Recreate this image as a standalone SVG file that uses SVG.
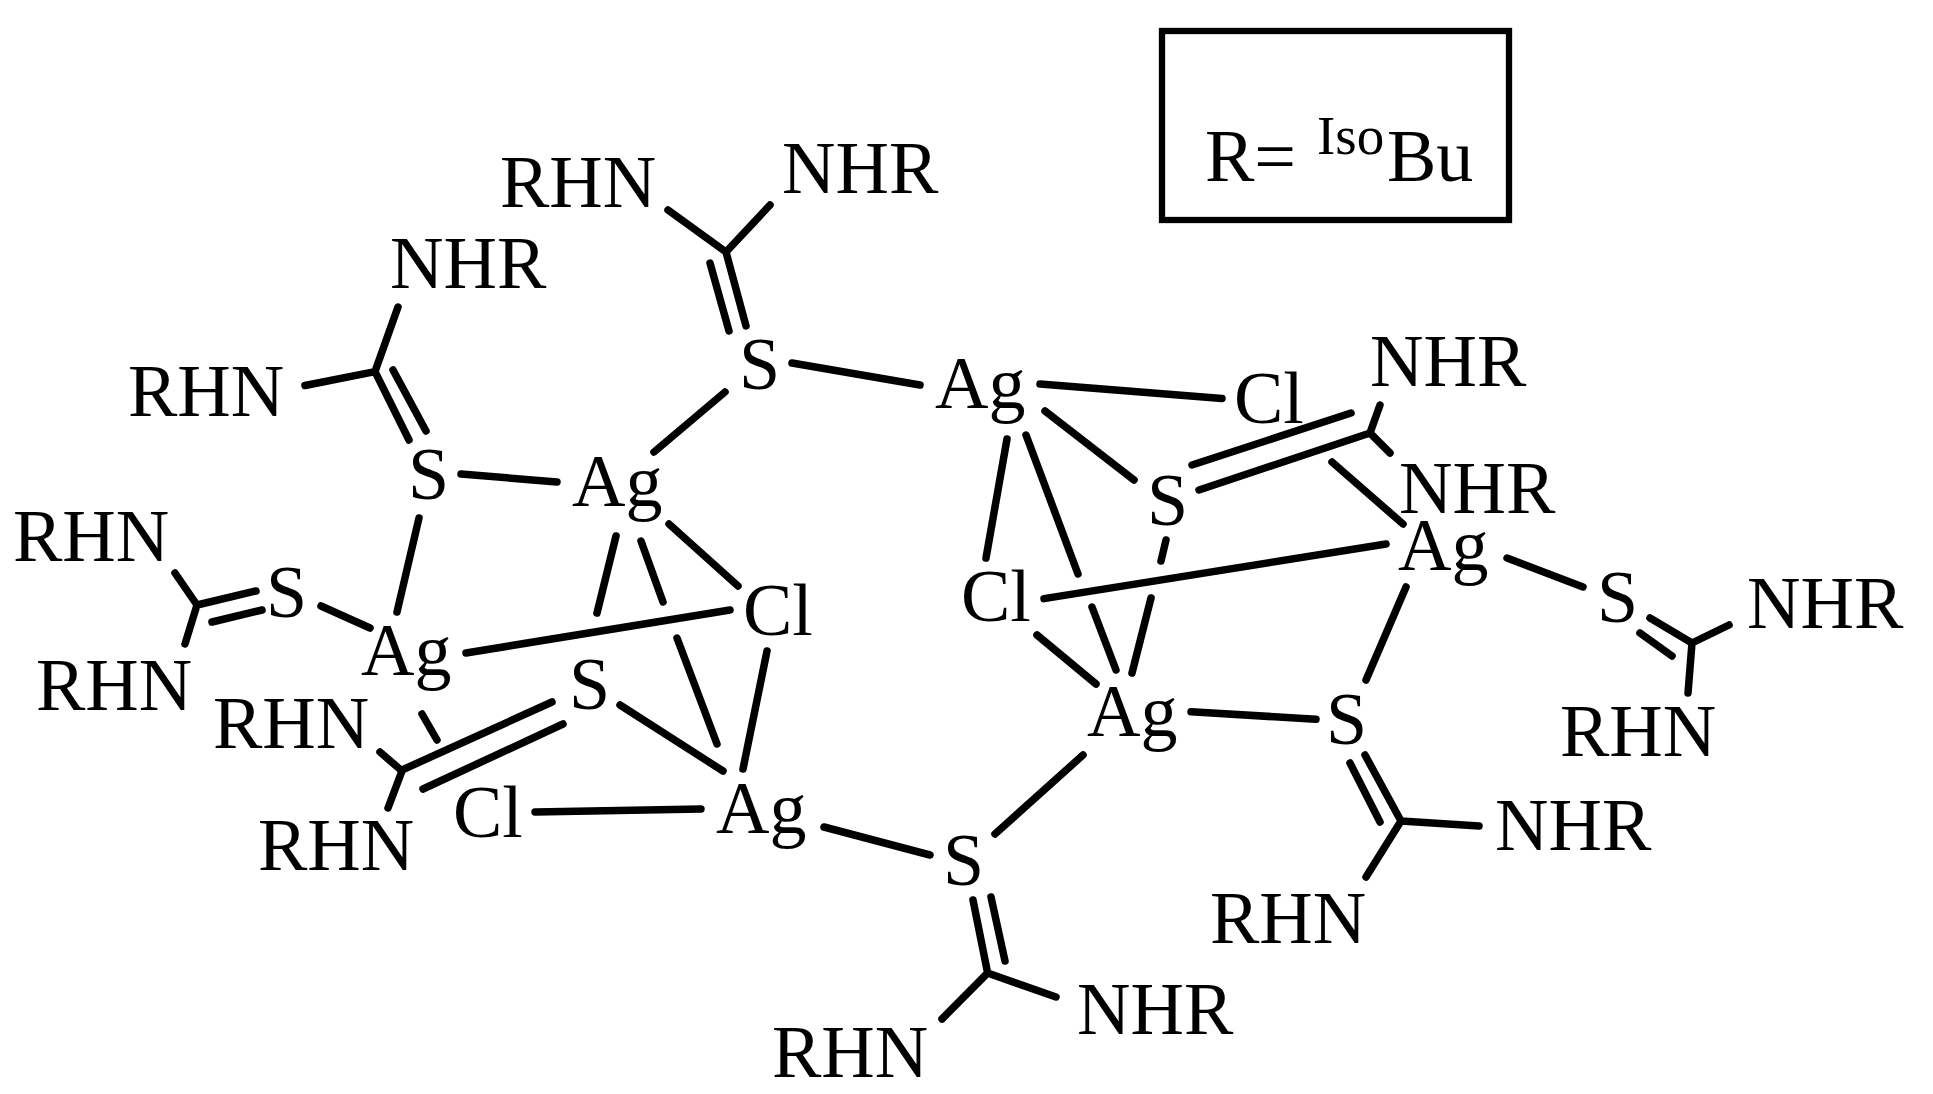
<svg xmlns="http://www.w3.org/2000/svg" width="1933" height="1094" viewBox="0 0 1933 1094">
<style>
.b{stroke:#000;stroke-width:7.500;stroke-linecap:round;fill:none}
text{font-family:"Liberation Serif","Times New Roman",serif;font-size:74px;fill:#000}
.sup{font-size:55px}
</style>
<rect width="1933" height="1094" fill="#fff"/>
<g id="connectors" class="b">
<path d="M668 210L726 252M770 205L726 252M726 252L746 326M710 263L729 331"/>
<path d="M792 363L920 385M725 392L654 452"/>
<path d="M398 307L375 371.600M305 385.500L375 371.600M375 371.600L409 440M393 370L426 431M461 474L557 482M419 518L397 612"/>
<path d="M175 573L197 605M197 605L185 644M197 605L256 591M212 622L262 610M321 606L370 628"/>
<path d="M466 653L730 610M669 524L738 586M616 536L597 613M641 541L663 602M677 638L717 744M767 651L743 769M620 705L723 771"/>
<path d="M552 702L402 770M563 724L423 789M380 752L402 771M402 771L388 808M422 714L437 740"/>
<path d="M535 812L701 809M824 827L930 855"/>
<path d="M995 834L1083 755M973 900L987.600 972.700M991 897L1005 961M987.600 973L1056 997M987.600 973L942 1019"/>
<path d="M1191 711.700L1316 719.300M1406 587L1366 680M1365 755L1401 821M1350 763L1380 822M1401 821L1479 826M1401 821L1366 877"/>
<path d="M1507 558L1583 587M1650 618L1692 643M1640 633L1672 656M1692 643L1729 625M1692 643L1688 693"/>
<path d="M1044 598.600L1386 544M1037 635L1096 684M1092 607L1116 670M1151 598L1132 673"/>
<path d="M1040 384L1222 398.500M1380 405L1370 433M1370 433L1390 453M1192 465L1351 413M1199 490L1370 433M1332 462L1403 524"/>
<path d="M1045 411L1134 480M1007 439L986 558M1026 435L1078 574M1166 540L1161 561"/>
</g>
<g id="legend">
<rect x="1162" y="31" width="347" height="189" fill="none" stroke="#000" stroke-width="6.300"/>
<text x="1205" y="181">R=</text>
<text class="sup" x="1317" y="154">Iso</text>
<text x="1387" y="181">Bu</text>
</g>
<g id="ag1"><text x="935" y="408">Ag</text></g>
<g id="ag2"><text x="572" y="506">Ag</text></g>
<g id="ag3"><text x="361" y="675">Ag</text></g>
<g id="ag4"><text x="716" y="833">Ag</text></g>
<g id="ag5"><text x="1087" y="736">Ag</text></g>
<g id="ag6"><text x="1398" y="570">Ag</text></g>
<g id="cl1"><text x="1234" y="423">Cl</text></g>
<g id="cl2"><text x="743" y="635">Cl</text></g>
<g id="cl3"><text x="453" y="837">Cl</text></g>
<g id="cl4"><text x="961" y="621">Cl</text></g>
<g id="s1"><text x="739" y="389">S</text></g>
<g id="s2"><text x="408" y="499">S</text></g>
<g id="s3"><text x="266" y="617">S</text></g>
<g id="s4"><text x="569" y="709">S</text></g>
<g id="s5"><text x="943" y="885">S</text></g>
<g id="s6"><text x="1326" y="744">S</text></g>
<g id="s7"><text x="1597" y="622">S</text></g>
<g id="s8"><text x="1147" y="525">S</text></g>
<g id="n1"><text x="500" y="207">RHN</text></g>
<g id="n2"><text x="782" y="193">NHR</text></g>
<g id="n3"><text x="390" y="288">NHR</text></g>
<g id="n4"><text x="128" y="416">RHN</text></g>
<g id="n5"><text x="13" y="561">RHN</text></g>
<g id="n6"><text x="36" y="710">RHN</text></g>
<g id="n7"><text x="213" y="748">RHN</text></g>
<g id="n8"><text x="258" y="870">RHN</text></g>
<g id="n9"><text x="772" y="1077">RHN</text></g>
<g id="n10"><text x="1077" y="1034">NHR</text></g>
<g id="n11"><text x="1210" y="943">RHN</text></g>
<g id="n12"><text x="1495" y="850">NHR</text></g>
<g id="n13"><text x="1560" y="756">RHN</text></g>
<g id="n14"><text x="1747" y="628">NHR</text></g>
<g id="n15"><text x="1370" y="386">NHR</text></g>
<g id="n16"><text x="1399" y="513">NHR</text></g>
</svg>
